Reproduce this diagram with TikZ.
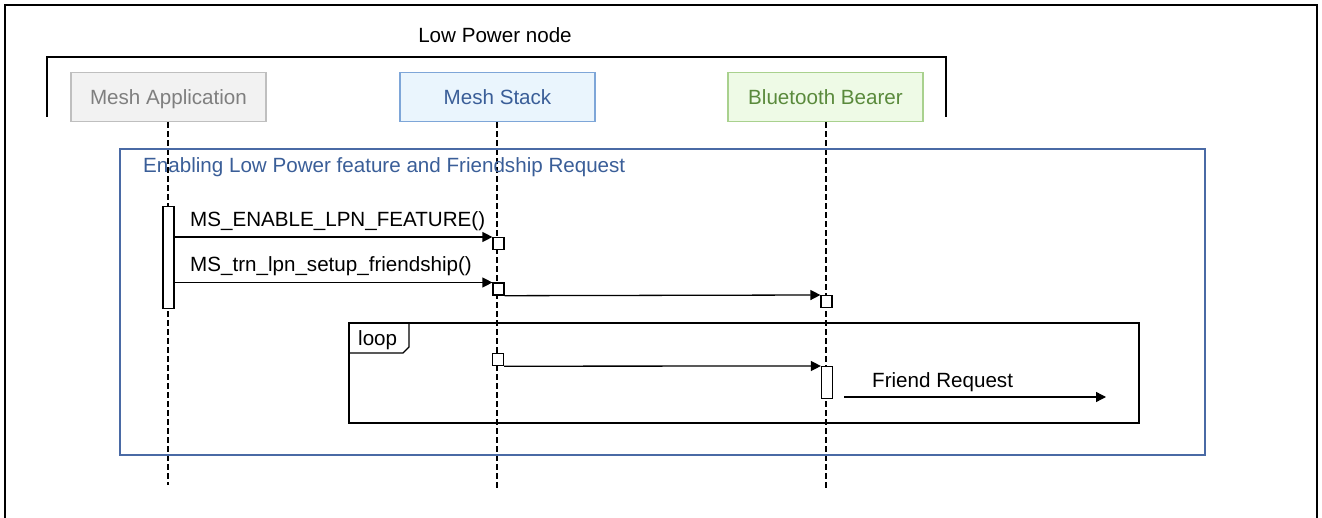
\documentclass[tikz,border=0pt]{standalone}
\usepackage{fontspec}
\setmainfont{Liberation Sans}
\usetikzlibrary{arrows.meta}
\definecolor{appfill}{HTML}{F2F2F2}
\definecolor{appdraw}{HTML}{BFBFBF}
\definecolor{apptext}{HTML}{7F7F7F}
\definecolor{stackfill}{HTML}{EAF5FD}
\definecolor{stackdraw}{HTML}{7EA6D8}
\definecolor{stacktext}{HTML}{3A5E98}
\definecolor{btfill}{HTML}{EEFAE6}
\definecolor{btdraw}{HTML}{A9D18E}
\definecolor{bttext}{HTML}{5A8A3C}
\definecolor{frameblue}{HTML}{4A6AA5}
\tikzset{
  txt/.style={font=\fontsize{20.6}{24}\selectfont, inner sep=0pt},
  lane/.style={txt, draw, line width=1.2pt, minimum width=195pt, minimum height=49pt, text height=16pt, text depth=0pt},
  lifeline/.style={line width=1.3pt, dash pattern=on 6pt off 3pt},
  msg/.style={line width=1.3pt, -{Triangle[length=10pt,width=10pt]}},
  sq/.style={draw, fill=white, line width=1.2pt, minimum width=11pt, minimum height=12pt, inner sep=0pt, anchor=north},
  bar/.style={draw, fill=white, line width=1.2pt, minimum width=11pt, inner sep=0pt, anchor=north},
  frameline/.style={line width=1.5pt}
}
\begin{document}
\begin{tikzpicture}[x=1pt,y=-1pt]
\useasboundingbox (0,0) rectangle (1322,518);
% outer frame
\draw[frameline] (5,530) -- (5,5) -- (1317,5) -- (1317,530);
% low power node bracket
\node[txt, anchor=base] (lpn) at (495,43) {Low Power node};
\draw[line width=2.5pt] (47,117) -- (47,57) -- (946,57) -- (946,117);
% lanes
\node[lane, fill=appfill, draw=appdraw, text=apptext] (app) at (168.5,97) {Mesh Application};
\node[lane, fill=stackfill, draw=stackdraw, text=stacktext] (stack) at (497.5,97) {Mesh Stack};
\node[lane, fill=btfill, draw=btdraw, text=bttext] (bt) at (825.5,97) {Bluetooth Bearer};
\coordinate (append) at (168,485);
\coordinate (stackend) at (497,488);
\coordinate (btend) at (826,488);
\draw[lifeline] (app.south -| append) -- (append);
\draw[lifeline] (stack.south -| stackend) -- (stackend);
\draw[lifeline] (bt.south -| btend) -- (btend);
% blue group frame
\draw[frameblue, line width=1.5pt] (120,149) rectangle (1205,455);
\node[txt, anchor=base west, text=stacktext] (title) at (143,173) {Enabling Low Power feature and Friendship Request};
% activation on app
\node[bar, minimum height=102pt] (appbar) at (168.5,206) {};
% messages
\node[sq] (s1) at (498.5,237) {};
\node[sq] (s2) at (498.5,282.5) {};
\node[sq] (s3) at (826.5,295) {};
\draw[msg] (appbar.east |- s1.north west) -- (s1.north west);
\node[txt, anchor=base west] (l1) at (190,227) {MS\_ENABLE\_LPN\_FEATURE()};
\draw[msg] (appbar.east |- s2.north west) -- (s2.north west);
\node[txt, anchor=base west] (l2) at (190,272) {MS\_trn\_lpn\_setup\_friendship()};
\draw[msg] (s2.south east) -- (s3.north west);
% loop frame
\draw[frameline] (349,323) rectangle (1139,423);
\draw[line width=1.2pt] (349,353) -- (403,353) -- (409,347) -- (409,323);
\node[txt, anchor=base west] (looplbl) at (358,346) {loop};
\node[sq] (s4) at (498,353) {};
\node[bar, minimum height=32pt] (btbar) at (827,366) {};
\draw[msg] (s4.south east) -- (btbar.north west);
\coordinate (frend) at (1106,397);
\draw[msg] ([xshift=11pt]btbar.south east |- frend) -- (frend);
\node[txt, anchor=base west] (fr) at (872,387) {Friend Request};
\end{tikzpicture}
\end{document}
